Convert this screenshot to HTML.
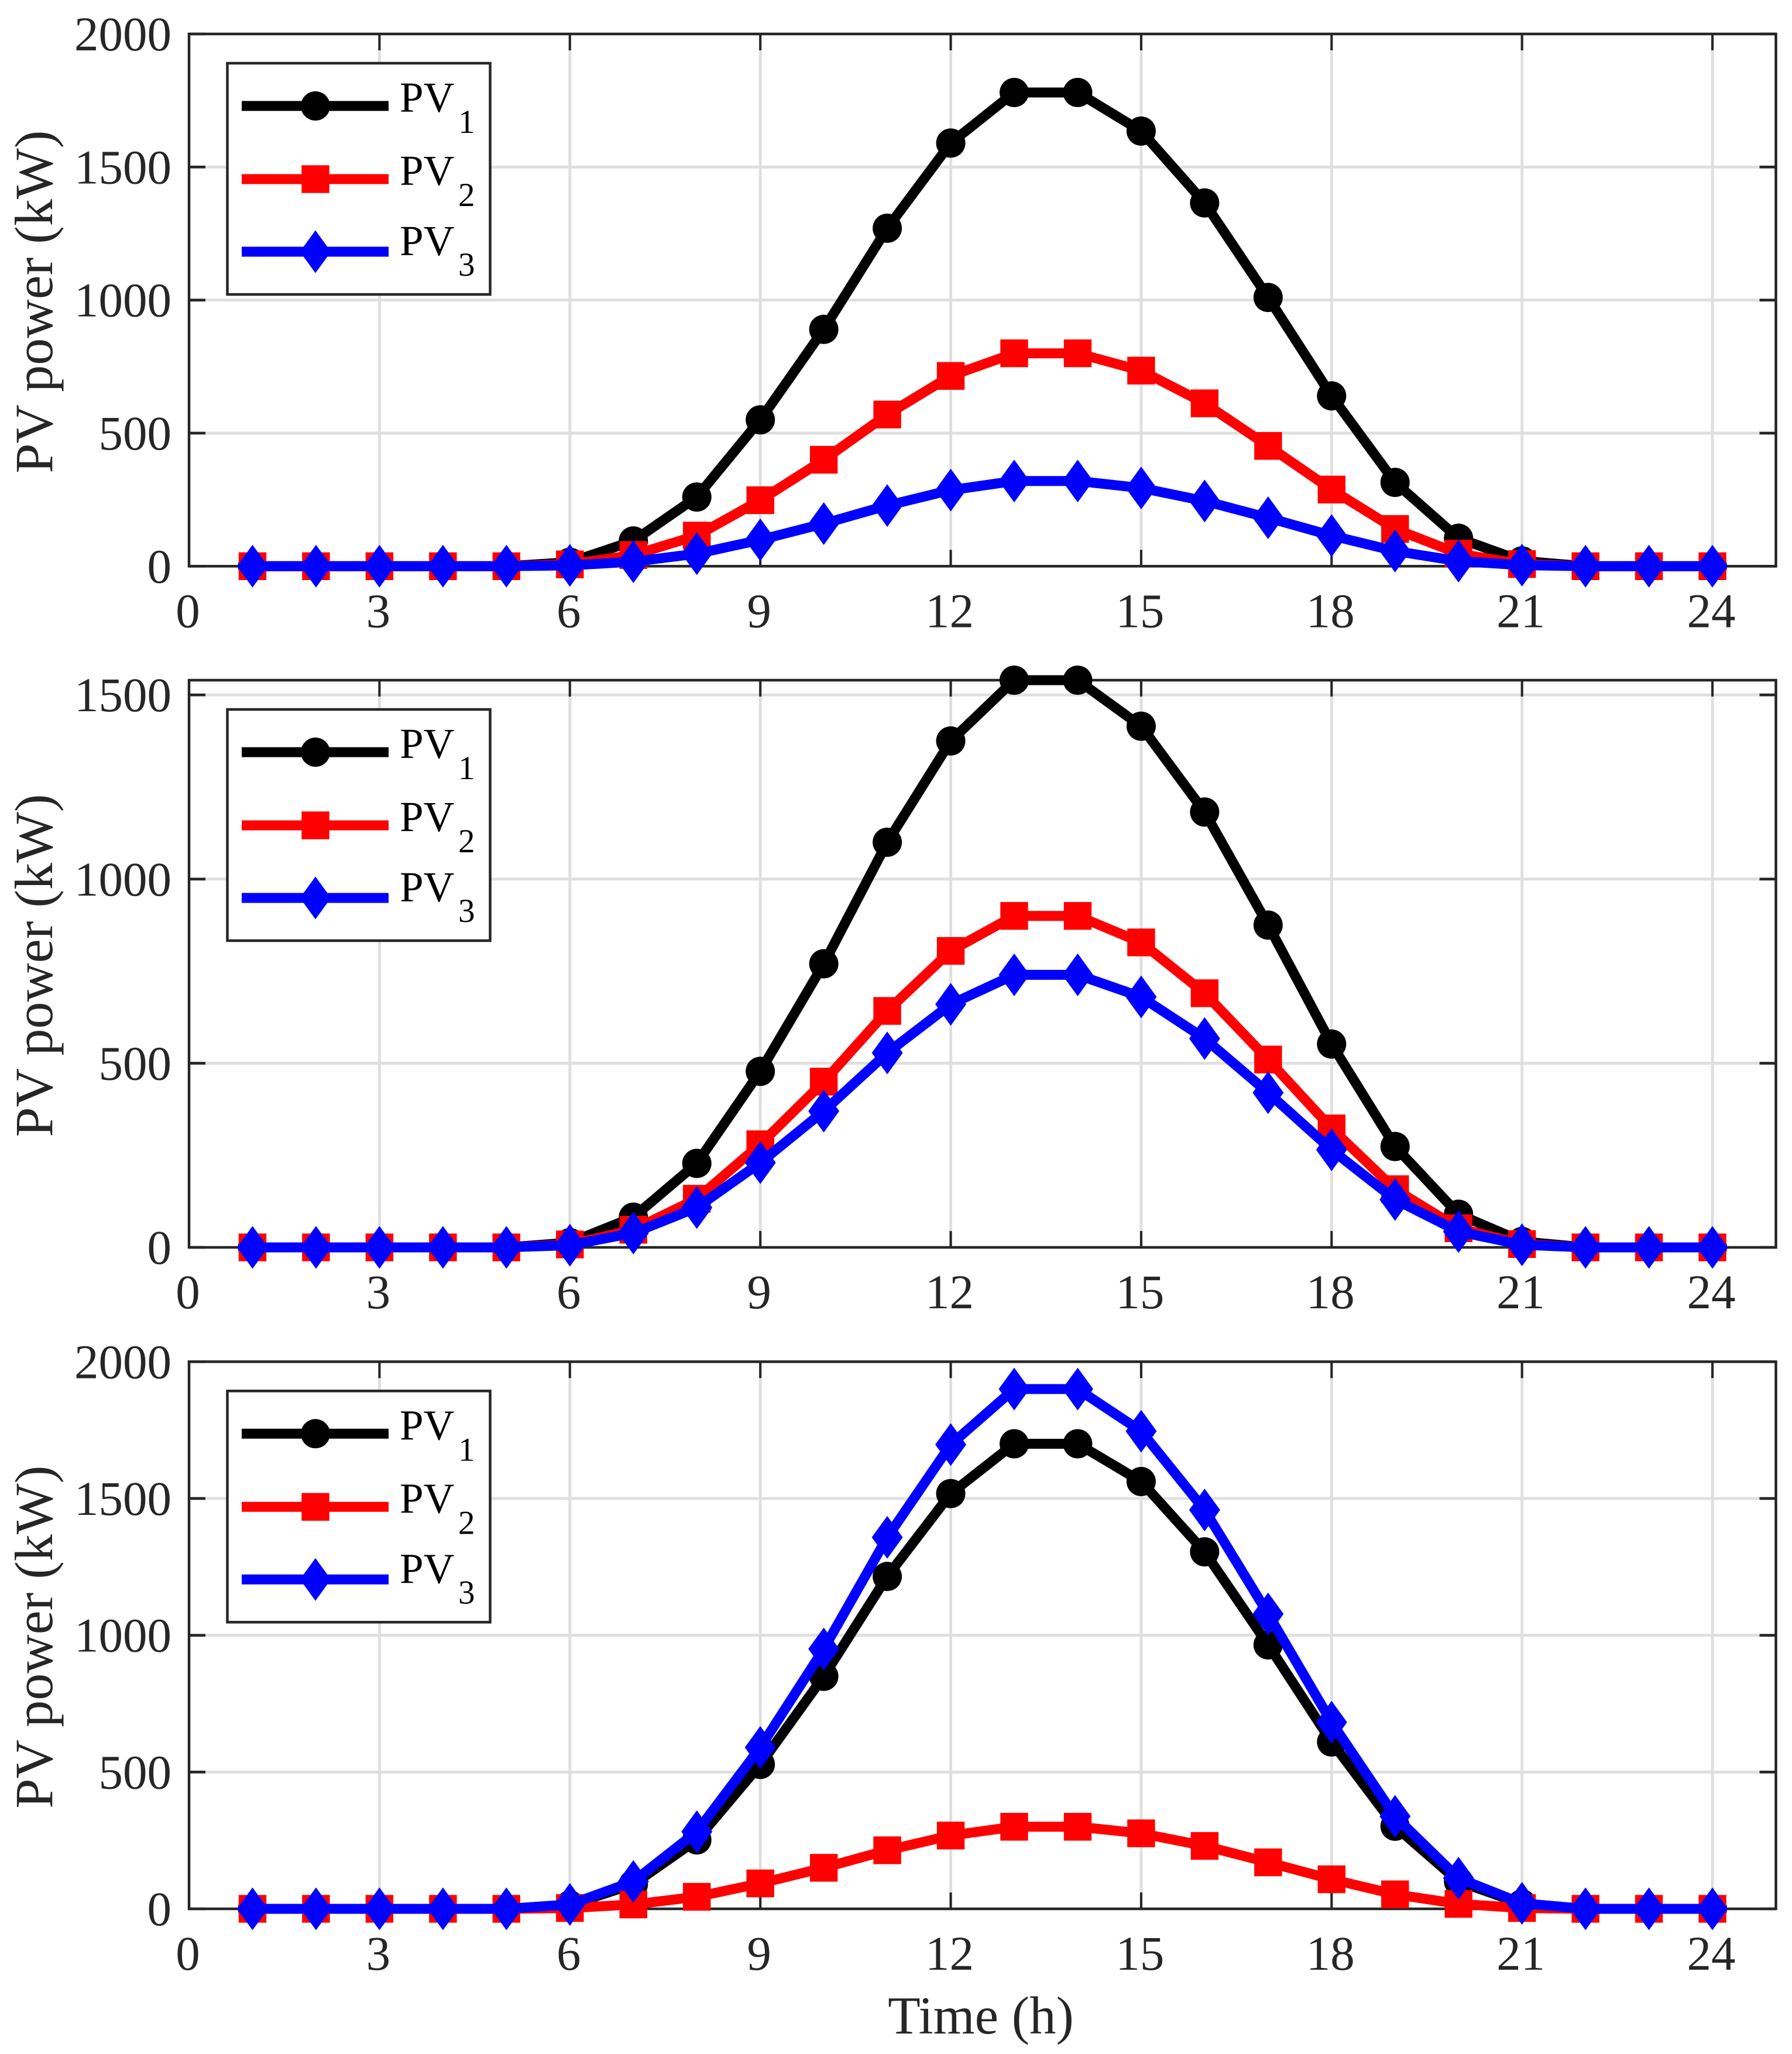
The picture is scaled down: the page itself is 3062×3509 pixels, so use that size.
<!DOCTYPE html>
<html lang="en">
<head>
<meta charset="utf-8">
<title>PV power profiles</title>
<style>
html,body{margin:0;padding:0;background:#fff;}
svg{display:block;font-family:"Liberation Serif",serif;}
</style>
</head>
<body>
<svg id="chart" xmlns="http://www.w3.org/2000/svg" width="3062" height="3509" viewBox="0 0 3062 3509">
<rect x="0" y="0" width="3062" height="3509" fill="#fff"></rect>
</svg>
<script>
const hours = [1,2,3,4,5,6,7,8,9,10,11,12,13,14,15,16,17,18,19,20,21,22,23,24];
const xTickLabels = [0,3,6,9,12,15,18,21,24];

const panel1Pv1 = [0,0,0,0,0,15,95,260,550,890,1270,1590,1780,1780,1635,1365,1010,640,315,105,20,0,0,0];
const panel1Pv2 = [0,0,0,0,0,7,42,115,248,400,570,715,800,800,735,612,452,288,140,47,8,0,0,0];
const panel1Pv3 = [0,0,0,0,0,3,17,47,99,160,228,286,320,320,294,245,182,115,57,19,4,0,0,0];
const panel1YTicks = [0,500,1000,1500,2000];
const panel1YMax = 2000;

const panel2Pv1 = [0,0,0,0,0,13,82,228,478,770,1100,1375,1540,1540,1415,1182,875,552,274,90,16,0,0,0];
const panel2Pv2 = [0,0,0,0,0,8,48,132,280,450,642,805,900,900,828,690,510,323,158,52,9,0,0,0];
const panel2Pv3 = [0,0,0,0,0,6,39,108,230,370,528,660,740,740,680,567,420,265,130,43,7,0,0,0];
const panel2YTicks = [0,500,1000,1500];
const panel2YMax = 1540;

const panel3Pv1 = [0,0,0,0,0,14,90,252,528,850,1215,1518,1700,1700,1562,1305,965,610,302,100,18,0,0,0];
const panel3Pv2 = [0,0,0,0,0,3,16,44,93,150,214,268,300,300,276,230,170,108,53,18,3,0,0,0];
const panel3Pv3 = [0,0,0,0,0,16,100,282,590,950,1358,1697,1900,1900,1746,1458,1078,682,338,112,20,0,0,0];
const panel3YTicks = [0,500,1000,1500,2000];
const panel3YMax = 2000;

const seriesNames = ['pv1','pv2','pv3'];
const seriesColors = ['#000000','#ff0000','#0000ff'];
const seriesSubs = ['1','2','3'];

const svg = document.getElementById('chart');
const NS = 'http://www.w3.org/2000/svg';
const INK = '#262626';
const GRID = '#dfdfdf';
const AX_L = 323, AX_R = 3034.5, X_MAX = 25;

function mk(tag, attrs, parent) {
  const el = document.createElementNS(NS, tag);
  for (const k in attrs) el.setAttribute(k, attrs[k]);
  parent.appendChild(el);
  return el;
}
function xScale(v) { return AX_L + (AX_R - AX_L) * v / X_MAX; }

function drawMarker(parent, kind, cx, cy, color) {
  let el;
  if (kind === 0) {
    el = mk('circle', {cx: cx, cy: cy, r: 25, fill: color}, parent);
  } else if (kind === 1) {
    el = mk('rect', {x: cx - 23.7, y: cy - 23.7, width: 47.4, height: 47.4, fill: color}, parent);
  } else {
    el = mk('polygon', {points: (cx-26.5)+','+cy+' '+cx+','+(cy-36.5)+' '+(cx+26.5)+','+cy+' '+cx+','+(cy+36.5), fill: color}, parent);
  }
  
  
}

function drawPanel(idx, top, bottom, yMax, yTicks, series) {
  const yScale = v => bottom - (bottom - top) * v / yMax;
  const g = mk('g', {}, svg);
  
  

  // grid
  const grid = mk('g', {stroke: GRID, 'stroke-width': 5, fill: 'none'}, g);
  
  
  xTickLabels.forEach(t => {
    if (t === 0) return;
    mk('line', {x1: xScale(t), x2: xScale(t), y1: top, y2: bottom}, grid);
  });
  yTicks.forEach(t => {
    if (t === 0 || t === yMax) return;
    mk('line', {x1: AX_L, x2: AX_R, y1: yScale(t), y2: yScale(t)}, grid);
  });

  // ticks
  const ticks = mk('g', {stroke: INK, fill: 'none'}, g);
  
  
  xTickLabels.forEach(t => {
    mk('line', {x1: xScale(t), x2: xScale(t), y1: bottom, y2: bottom - 28, 'stroke-width': 4}, ticks);
    mk('line', {x1: xScale(t), x2: xScale(t), y1: top, y2: top + 28, 'stroke-width': 4}, ticks);
  });
  yTicks.forEach(t => {
    mk('line', {x1: AX_L, x2: AX_L + 28, y1: yScale(t), y2: yScale(t), 'stroke-width': 4.6}, ticks);
    mk('line', {x1: AX_R, x2: AX_R - 28, y1: yScale(t), y2: yScale(t), 'stroke-width': 4.6}, ticks);
  });

  // axes box
  const box = mk('rect', {x: AX_L, y: top, width: AX_R - AX_L, height: bottom - top, fill: 'none', stroke: INK, 'stroke-width': 4.5}, g);
  
  

  // tick labels
  xTickLabels.forEach(t => {
    const el = mk('text', {x: xScale(t) - 2, y: bottom + 104, 'text-anchor': 'middle', 'font-size': 83, fill: INK}, g);
    el.textContent = String(t);
    
    
  });
  yTicks.forEach(t => {
    const el = mk('text', {x: 293, y: yScale(t) + 28, 'text-anchor': 'end', 'font-size': 83, fill: INK}, g);
    el.textContent = String(t);
    
    
  });

  // y title
  const cy = (top + bottom) / 2 + 3;
  const yt = mk('text', {x: 89, y: cy, 'text-anchor': 'middle', 'font-size': 92, fill: INK, transform: 'rotate(-90 89 ' + cy + ')'}, g);
  yt.textContent = 'PV power (kW)';
  
  

  // series
  series.forEach((vals, s) => {
    const sg = mk('g', {}, g);
    
    
    const pts = hours.map((h, i) => xScale(h) + ',' + yScale(vals[i])).join(' ');
    const line = mk('polyline', {points: pts, fill: 'none', stroke: seriesColors[s], 'stroke-width': 17, 'stroke-linejoin': 'miter'}, sg);
    
    
    hours.forEach((h, i) => drawMarker(sg, s, xScale(h), yScale(vals[i]), seriesColors[s]));
  });

  // legend
  const legTop = top + 50;
  const lg = mk('g', {}, g);
  
  
  const lb = mk('rect', {x: 388.5, y: legTop, width: 449, height: 395, fill: '#fff', stroke: INK, 'stroke-width': 4.5}, lg);
  
  
  const rowOffsets = [73, 198, 322];
  const subOffsets = [119, 244, 363];
  const textOffsets = [83, 208, 328];
  seriesNames.forEach((n, s) => {
    const ry = legTop + rowOffsets[s];
    const en = mk('g', {}, lg);
    
    
    mk('line', {x1: 413, x2: 664, y1: ry, y2: ry, stroke: seriesColors[s], 'stroke-width': 17}, en);
    drawMarker(en, s, 539, ry, seriesColors[s]);
    const tx = mk('text', {x: 683, y: legTop + textOffsets[s], 'font-size': 73, fill: '#000'}, en);
    tx.textContent = 'PV';
    
    
    const sb = mk('text', {x: 783, y: legTop + subOffsets[s], 'font-size': 57, fill: '#000'}, en);
    sb.textContent = seriesSubs[s];
    
    
  });
}

drawPanel(1, 58, 967.3, panel1YMax, panel1YTicks, [panel1Pv1, panel1Pv2, panel1Pv3]);
drawPanel(2, 1162, 2131, panel2YMax, panel2YTicks, [panel2Pv1, panel2Pv2, panel2Pv3]);
drawPanel(3, 2326.3, 3261, panel3YMax, panel3YTicks, [panel3Pv1, panel3Pv2, panel3Pv3]);

const xTitle = mk('text', {x: 1676, y: 3474, 'text-anchor': 'middle', 'font-size': 91, fill: INK}, svg);
xTitle.textContent = 'Time (h)';


</script>
</body>
</html>
